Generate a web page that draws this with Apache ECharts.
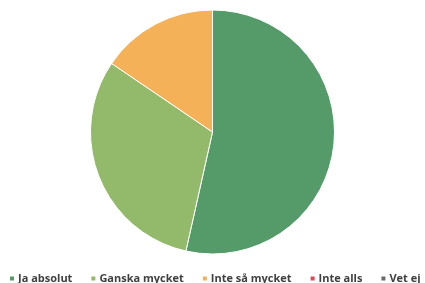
<!DOCTYPE html>
<html>
<head>
<meta charset="utf-8">
<script src="https://cdn.jsdelivr.net/npm/echarts@6/dist/echarts.min.js"></script>
<style>
html, body { margin: 0; padding: 0; background: #fff; }
#chart { width: 425px; height: 283px; }
</style>
</head>
<body>
<div id="chart"></div>
<script>
var categories = ['Ja absolut', 'Ganska mycket', 'Inte så mycket', 'Inte alls', 'Vet ej'];
var values = [53.5, 31, 15.5, 0, 0];
var colors = ['#559b6a', '#93b96b', '#f5b157', '#e0475a', '#6b6b6b'];

var myChart = echarts.init(document.getElementById('chart'));

var data = [];
for (var i = 0; i < categories.length; i++) {
    data.push({ name: categories[i], value: values[i] });
}

var option = {
    animation: false,
    color: colors,
    legend: {
        left: 3,
        top: 268,
        width: 1000,
        itemWidth: 6,
        itemHeight: 6,
        itemGap: 17,
        icon: 'rect',
        textStyle: {
            fontFamily: 'Open Sans',
            fontWeight: 'bold',
            fontSize: 11,
            color: '#404040',
            padding: [0, 0, 0, -2]
        },
        data: categories
    },
    series: [
        {
            type: 'pie',
            center: [212.5, 132],
            radius: [0, 122],
            startAngle: 90,
            clockwise: true,
            label: { show: false },
            labelLine: { show: false },
            itemStyle: {
                borderColor: '#fff',
                borderWidth: 1
            },
            emphasis: { disabled: true },
            data: data
        }
    ]
};
myChart.setOption(option);
</script>
</body>
</html>
